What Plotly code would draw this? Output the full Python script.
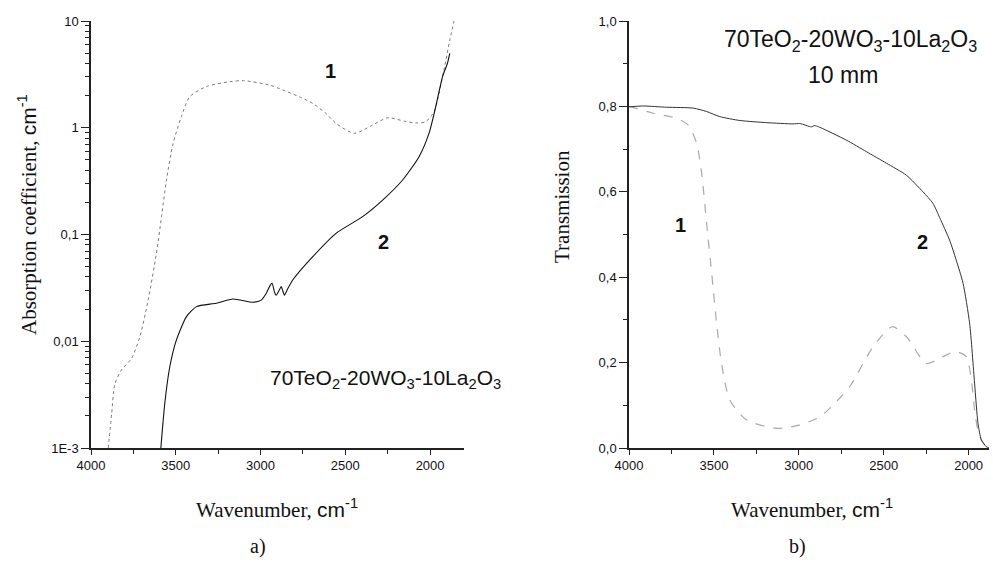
import plotly.graph_objects as go

# ---- data: panel a) absorption coefficient (log scale) ----
wn_a1 = [3898, 3878, 3859, 3820, 3761, 3712, 3663, 3614, 3584, 3555, 3516, 3467, 3418, 3320,
         3182, 3100, 2947, 2869, 2771, 2692, 2614, 2555, 2447, 2339, 2250, 2150, 2084, 2030,
         1996, 1970, 1947, 1908, 1885, 1859]
k_a1 = [0.001, 0.0021, 0.0040, 0.0054, 0.0069, 0.011, 0.0243, 0.067, 0.147, 0.324, 0.71, 1.27,
        1.95, 2.43, 2.70, 2.76, 2.51, 2.26, 1.95, 1.69, 1.36, 1.10, 0.887, 1.06, 1.24, 1.15,
        1.11, 1.13, 1.27, 1.5, 2.1, 4.2, 6.5, 10.0]

wn_a2 = [3588, 3565, 3535, 3496, 3437, 3378, 3261, 3163, 3045, 2996, 2967, 2945, 2932, 2918,
         2908, 2890, 2878, 2859, 2840, 2810, 2692, 2555, 2398, 2280, 2162, 2065, 2006, 1967,
         1927, 1898, 1884]
k_a2 = [0.001, 0.0026, 0.0058, 0.0103, 0.017, 0.0211, 0.0227, 0.0249, 0.0232, 0.0243, 0.028,
        0.033, 0.035, 0.029, 0.027, 0.030, 0.0325, 0.027, 0.031, 0.0375, 0.062, 0.1026, 0.147,
        0.21, 0.324, 0.536, 0.89, 1.57, 3.0, 4.0, 4.98]

# ---- data: panel b) transmission ----
wn_b2 = [4000, 3916, 3778, 3622, 3543, 3465, 3347, 3190, 3033, 2994, 2926, 2910, 2896, 2870,
         2720, 2602, 2484, 2367, 2269, 2210, 2171, 2112, 2073, 2033, 1994, 1965, 1945, 1925,
         1896, 1880]
t_b2 = [0.799, 0.801, 0.798, 0.796, 0.788, 0.776, 0.767, 0.762, 0.759, 0.760, 0.752, 0.755,
        0.754, 0.750, 0.721, 0.694, 0.667, 0.639, 0.600, 0.573, 0.540, 0.487, 0.440, 0.386,
        0.292, 0.152, 0.058, 0.019, 0.003, 0.0]

wn_b1 = [4000, 3857, 3719, 3651, 3602, 3572, 3543, 3513, 3484, 3455, 3406, 3308, 3131, 2994,
         2876, 2800, 2700, 2563, 2450, 2367, 2249, 2160, 2080, 2014, 1984, 1965, 1945, 1925,
         1896, 1880]
t_b1 = [0.800, 0.784, 0.772, 0.756, 0.714, 0.643, 0.526, 0.409, 0.292, 0.198, 0.112, 0.066,
        0.046, 0.054, 0.073, 0.100, 0.144, 0.237, 0.284, 0.261, 0.198, 0.212, 0.226, 0.214,
        0.159, 0.089, 0.040, 0.019, 0.003, 0.0]

# ---- tick labels ----
a_yvals = [0.001, 0.01, 0.1, 1, 10]
a_ytext = ["1E-3", "0,01", "0,1", "1", "10"]
b_yvals = [0.0, 0.2, 0.4, 0.6, 0.8, 1.0]
b_ytext = ["0,0", "0,2", "0,4", "0,6", "0,8", "1,0"]
x_vals = [4000, 3500, 3000, 2500, 2000]
x_text = ["4000", "3500", "3000", "2500", "2000"]
x_minor = [3750, 3250, 2750, 2250, 1750]
a_yminor = [m * 10 ** e for e in (-3, -2, -1, 0) for m in range(2, 10)]
b_yminor = [0.1, 0.3, 0.5, 0.7, 0.9]

formula = "70TeO<sub>2</sub>-20WO<sub>3</sub>-10La<sub>2</sub>O<sub>3</sub>"

W, H = 993, 565
SANS = "Liberation Sans, Arial, sans-serif"
SERIF = "Liberation Serif, Times New Roman, serif"
AX = "#222222"


def px(x):
    return x / W


def py(y):
    return 1 - y / H


fig = go.Figure()
fig.add_trace(go.Scatter(x=wn_a1, y=k_a1, mode="lines", xaxis="x", yaxis="y",
                         line=dict(color="#7a7a7a", width=1, dash="dot", shape="spline", smoothing=0.7),
                         showlegend=False))
fig.add_trace(go.Scatter(x=wn_a2, y=k_a2, mode="lines", xaxis="x", yaxis="y",
                         line=dict(color="#111111", width=1.1, shape="spline", smoothing=0.6),
                         showlegend=False))
fig.add_trace(go.Scatter(x=wn_b1, y=t_b1, mode="lines", xaxis="x2", yaxis="y2",
                         line=dict(color="#aaaaaa", width=1.2, dash="dash", shape="spline", smoothing=0.7),
                         showlegend=False))
fig.add_trace(go.Scatter(x=wn_b2, y=t_b2, mode="lines", xaxis="x2", yaxis="y2",
                         line=dict(color="#333333", width=1, shape="spline", smoothing=0.6),
                         showlegend=False))

axis_common = dict(showline=True, linecolor=AX, linewidth=1.5, showgrid=False, zeroline=False,
                   ticks="outside", tickcolor=AX, tickwidth=1.2, automargin=False,
                   tickfont=dict(family=SANS, size=13, color="#111"))

fig.update_layout(
    width=W, height=H, margin=dict(l=0, r=0, t=0, b=0, autoexpand=False),
    paper_bgcolor="white", plot_bgcolor="white",
    xaxis=dict(domain=[px(91), px(464)], range=[4000, 1800], anchor="y",
               tickvals=x_vals, ticktext=x_text, ticklen=5,
               minor=dict(tickvals=x_minor, ticks="outside", ticklen=4, tickcolor=AX), **axis_common),
    yaxis=dict(domain=[py(448), py(21)], type="log", range=[-3, 1], anchor="x",
               tickvals=a_yvals, ticktext=a_ytext, ticklen=8,
               minor=dict(tickvals=a_yminor, ticks="outside", ticklen=4, tickcolor=AX), **axis_common),
    xaxis2=dict(domain=[px(629), px(989)], range=[4000, 1880], anchor="y2",
                tickvals=x_vals, ticktext=x_text, ticklen=5,
                minor=dict(tickvals=x_minor, ticks="outside", ticklen=4, tickcolor=AX), **axis_common),
    yaxis2=dict(domain=[py(448), py(21)], range=[0, 1], anchor="x2",
                tickvals=b_yvals, ticktext=b_ytext, ticklen=8,
                minor=dict(tickvals=b_yminor, ticks="outside", ticklen=4, tickcolor=AX), **axis_common),
)

cm = '<span style="font-family:Liberation Sans, Arial, sans-serif">cm<sup>-1</sup></span>'


def ann(x, y, text, size, family=SANS, bold=False, angle=0, xanchor="center"):
    t = f"<b>{text}</b>" if bold else text
    fig.add_annotation(x=px(x), y=py(y), xref="paper", yref="paper", text=t, showarrow=False,
                       textangle=angle, xanchor=xanchor, yanchor="middle",
                       font=dict(family=family, size=size, color="#111"))


# axis titles
ann(277, 508, "Wavenumber, " + cm, 21, SERIF)
ann(812, 508, "Wavenumber, " + cm, 21, SERIF)
ann(28, 215, "Absorption coefficient, " + cm, 21, SERIF, angle=-90)
ann(562, 207, "Transmission", 21, SERIF, angle=-90)

# panel labels
ann(258, 546, "a)", 20, SERIF)
ann(797, 546, "b)", 20, SERIF)

# composition labels
ann(268, 379, formula, 21, SANS, xanchor="left")
ann(850, 40, formula, 23, SANS)
ann(843, 75, "10 mm", 23, SANS)

# curve numbers
ann(330, 71, "1", 20, SANS, bold=True)
ann(383, 242, "2", 20, SANS, bold=True)
ann(680, 225, "1", 20, SANS, bold=True)
ann(922, 242, "2", 20, SANS, bold=True)

fig.write_html("out.html", config={"displayModeBar": False},
               post_script="document.body.style.margin='0px';")
